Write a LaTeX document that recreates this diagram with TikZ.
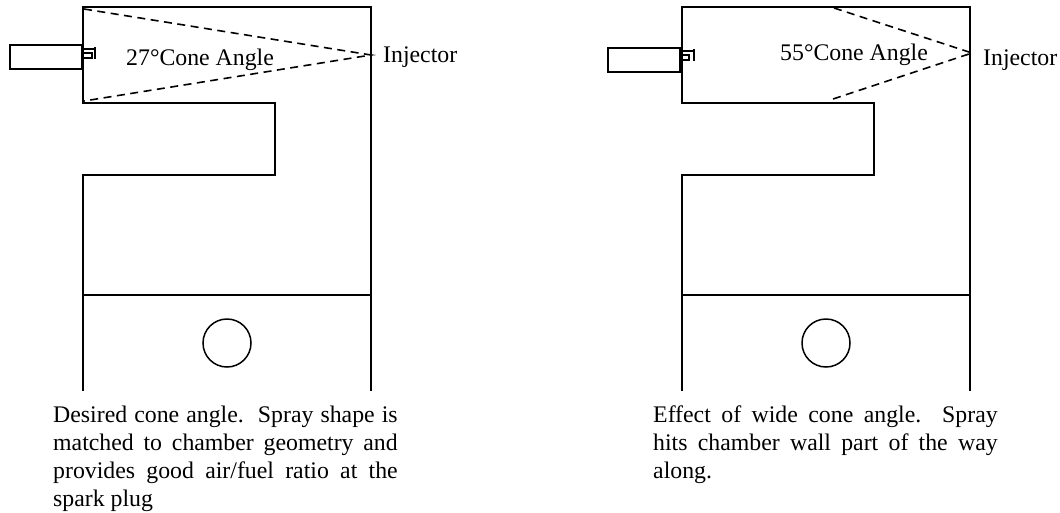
\documentclass[tikz,border=0pt]{standalone}
\usepackage{fontspec}
\setmainfont{Liberation Serif}
\tikzset{
  wall/.style={draw=black,line width=1.5pt},
  spray/.style={draw=black,line width=1.6pt,dash pattern=on 8pt off 5.5pt},
  lbl/.style={inner sep=0pt,font=\fontsize{23.8}{28}\selectfont,anchor=base west},
  captext/.style={inner sep=0pt,font=\fontsize{23.8}{28}\selectfont,anchor=north west,align=left},
  piston/.style={draw,line width=1.5pt,circle,minimum size=48pt,inner sep=0pt},
}
\newcommand{\capline}[1]{\hbox to 344.5pt{\spaceskip=0.25em plus 1fil\xspaceskip=0.5em plus 1fil #1}}
\begin{document}
\begin{tikzpicture}[x=1pt,y=-1pt]
\useasboundingbox (0,0) rectangle (1060,512);
% left
\draw[wall] (83,391) -- (83,175) -- (275,175) -- (275,103) -- (83,103) -- (83,7) -- (371,7) -- (371,391);
\draw[wall] (83,295) -- (371,295);
\node[piston] (pistonL) at (227,343) {};
\draw[wall] (82,45) rectangle (10,69);
\draw[line width=1.2pt] (83,49) -- (95,49) (83,53) -- (92,53) -- (92,58) -- (83,58) (95,47) -- (95,59);
\coordinate (tipL) at (371,55);
\coordinate (topL) at (84,9);
\coordinate (botL) at (84,101);
\draw[spray] (topL) -- (tipL) -- (botL);
\node[lbl] (coneL) at (126,65) {27°Cone Angle};
\node[lbl] (injL) at (383,62) {Injector};
\node[captext] (capL) at (53,406) {\capline{Desired cone angle.\ \ Spray shape is}\\\capline{matched to chamber geometry and}\\\capline{provides good air/fuel ratio at the}\\spark plug};
% right
\draw[wall] (682,391) -- (682,175) -- (874,175) -- (874,103) -- (682,103) -- (682,7) -- (970,7) -- (970,391);
\draw[wall] (682,295) -- (970,295);
\node[piston] (pistonR) at (826,343) {};
\draw[wall] (680,48) rectangle (608,72);
\draw[line width=1.2pt] (680,51) -- (694,51) (680,55) -- (689,55) -- (689,60) -- (680,60) (694,49) -- (694,61);
\coordinate (tipR) at (972,53);
\coordinate (topR) at (834,8);
\coordinate (botR) at (833,99);
\draw[spray] (topR) -- (tipR) -- (botR);
\node[lbl] (coneR) at (780,60.5) {55°Cone Angle};
\node[lbl] (injR) at (983,65.5) {Injector};
\node[captext] (capR) at (653,406) {\capline{Effect of wide cone angle.\ \ Spray}\\\capline{hits chamber wall part of the way}\\along.};
\end{tikzpicture}
\end{document}
